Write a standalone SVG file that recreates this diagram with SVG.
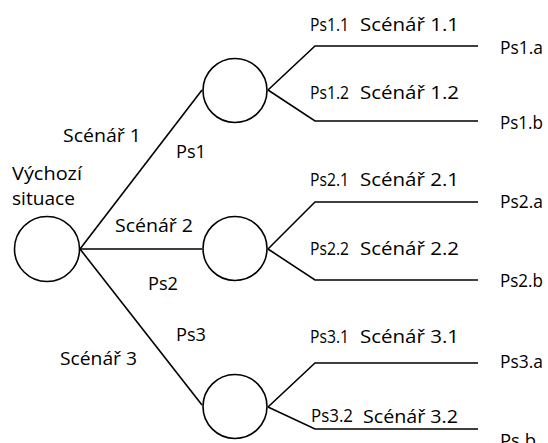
<svg xmlns="http://www.w3.org/2000/svg" width="548" height="443" viewBox="0 0 548 443">
<style>
.n{fill:#fff;stroke:#000;stroke-width:1.6}
.c{fill:none;stroke:#000;stroke-width:1.6;stroke-linejoin:miter}
text{font-family:"Open Sans","Noto Sans","Liberation Sans",sans-serif;font-size:18.5px;fill:#000}
</style>
<rect width="548" height="443" fill="#fff"/>
<g id="connectors">
<path class="c" d="M80,249 L202,90"/>
<path class="c" d="M80,249 L202,249"/>
<path class="c" d="M80,249 L202,405"/>
<path class="c" d="M268,90 L315,46 L478,46"/>
<path class="c" d="M268,90 L315,121 L478,121"/>
<path class="c" d="M268,249 L315,202 L478,202"/>
<path class="c" d="M268,249 L315,280 L478,280"/>
<path class="c" d="M268,407 L315,363 L478,363"/>
<path class="c" d="M268,407 L315,429 L478,429"/>
</g>
<g id="root"><circle class="n" cx="47" cy="249" r="32.5"/>
<text x="12" y="180" textLength="70" lengthAdjust="spacingAndGlyphs">Výchozí</text>
<text x="12" y="205" textLength="63" lengthAdjust="spacingAndGlyphs">situace</text></g>
<g id="node1"><circle class="n" cx="235" cy="90.5" r="32"/></g>
<g id="node2"><circle class="n" cx="235" cy="248.5" r="32"/></g>
<g id="node3"><circle class="n" cx="235" cy="406.5" r="32"/></g>
<g id="labels">
<text x="63" y="142" textLength="78" lengthAdjust="spacingAndGlyphs">Scénář 1</text>
<text x="176" y="158" textLength="30" lengthAdjust="spacingAndGlyphs">Ps1</text>
<text x="115" y="232" textLength="78" lengthAdjust="spacingAndGlyphs">Scénář 2</text>
<text x="148" y="290" textLength="30" lengthAdjust="spacingAndGlyphs">Ps2</text>
<text x="176" y="341" textLength="30" lengthAdjust="spacingAndGlyphs">Ps3</text>
<text x="60" y="365" textLength="77" lengthAdjust="spacingAndGlyphs">Scénář 3</text>
<text x="310" y="31" textLength="39" lengthAdjust="spacingAndGlyphs">Ps1.1</text>
<text x="360" y="31" textLength="99" lengthAdjust="spacingAndGlyphs">Scénář 1.1</text>
<text x="310" y="99" textLength="39" lengthAdjust="spacingAndGlyphs">Ps1.2</text>
<text x="360" y="99" textLength="99" lengthAdjust="spacingAndGlyphs">Scénář 1.2</text>
<text x="310" y="186" textLength="39" lengthAdjust="spacingAndGlyphs">Ps2.1</text>
<text x="360" y="186" textLength="99" lengthAdjust="spacingAndGlyphs">Scénář 2.1</text>
<text x="310" y="255" textLength="39" lengthAdjust="spacingAndGlyphs">Ps2.2</text>
<text x="360" y="255" textLength="99" lengthAdjust="spacingAndGlyphs">Scénář 2.2</text>
<text x="310" y="343" textLength="39" lengthAdjust="spacingAndGlyphs">Ps3.1</text>
<text x="360" y="343" textLength="99" lengthAdjust="spacingAndGlyphs">Scénář 3.1</text>
<text x="311" y="422" textLength="42" lengthAdjust="spacingAndGlyphs">Ps3.2</text>
<text x="363" y="423" textLength="95" lengthAdjust="spacingAndGlyphs">Scénář 3.2</text>
<text x="500" y="54" textLength="43" lengthAdjust="spacingAndGlyphs">Ps1.a</text>
<text x="500" y="129" textLength="43" lengthAdjust="spacingAndGlyphs">Ps1.b</text>
<text x="500" y="208" textLength="43" lengthAdjust="spacingAndGlyphs">Ps2.a</text>
<text x="500" y="287" textLength="43" lengthAdjust="spacingAndGlyphs">Ps2.b</text>
<text x="500" y="368" textLength="43" lengthAdjust="spacingAndGlyphs">Ps3.a</text>
<text x="500" y="447" textLength="36" lengthAdjust="spacingAndGlyphs">Ps.b</text>
</g>
</svg>
